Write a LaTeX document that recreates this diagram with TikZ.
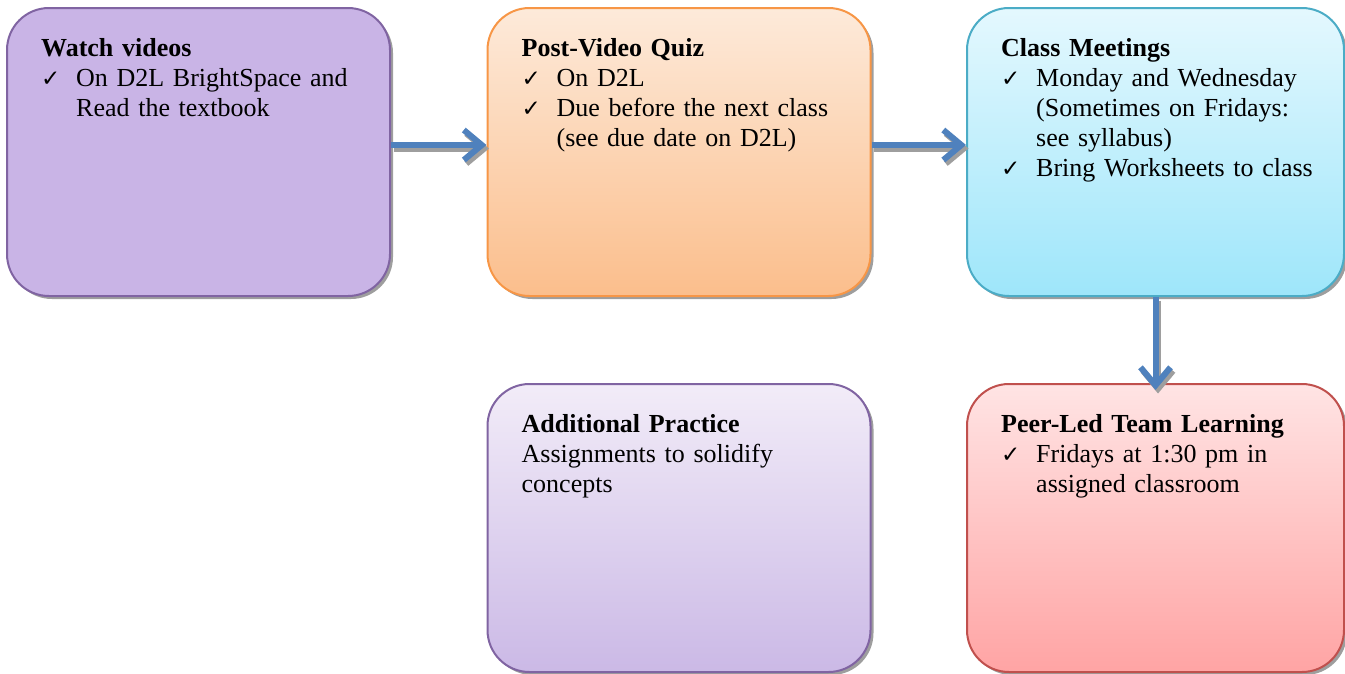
\documentclass[tikz,border=0pt]{standalone}
\usepackage{fontspec}
\setmainfont{Liberation Serif}
\newfontfamily\tickfont{DejaVu Sans}
\usepackage{tikz}
\usetikzlibrary{arrows.meta,shadows}
\definecolor{flowblue}{HTML}{4F81BD}
\definecolor{purpleline}{HTML}{8064A2}
\definecolor{orangeline}{HTML}{F79646}
\definecolor{aqualine}{HTML}{4BACC6}
\definecolor{redline}{HTML}{C0504D}
\newenvironment{ticks}{\begin{list}{\tickfont\fontsize{23}{23}\selectfont ✓}{\setlength{\leftmargin}{35pt}\setlength{\labelwidth}{35pt}%
	\setlength{\labelsep}{0pt}\setlength{\itemsep}{0pt}\setlength{\parsep}{0pt}\setlength{\topsep}{0pt}\setlength{\partopsep}{0pt}%
	\def\makelabel##1{##1\hfil}}}{\end{list}}

\begin{document}
\begin{tikzpicture}[x=1pt,y=-1pt,
		box/.style={rounded corners=42pt, line width=2pt, minimum width=383pt, minimum height=288pt, inner sep=0pt,
			drop shadow={shadow xshift=3pt,shadow yshift=-3pt,fill=black!38,opacity=1}},
		txt/.style={anchor=north west, inner sep=0pt, text width=340pt, align=left, font=\fontsize{26}{30}\selectfont},
		flow/.style={draw=flowblue, line width=6pt, -{Straight Barb[length=18pt,width=30pt]}},
		flowshade/.style={flow, draw=black!38, transform canvas={xshift=2.5pt,yshift=-3.5pt}}]
			%%%%% START %%%%%
			
			\useasboundingbox (0,0) rectangle (1345,673);
			
			\node[box, draw=purpleline, fill={rgb,255:red,201;green,180;blue,230}] (watch) at (198.5,152) {};
			\node[box, draw=orangeline, top color={rgb,255:red,253;green,234;blue,218}, bottom color={rgb,255:red,251;green,190;blue,140}] (quiz) at (679,152) {};
			\node[box, minimum width=377pt, draw=aqualine, top color={rgb,255:red,228;green,248;blue,254}, bottom color={rgb,255:red,158;green,230;blue,250}] (meet) at (1155.5,152) {};
			\node[box, draw=purpleline, top color={rgb,255:red,242;green,236;blue,248}, bottom color={rgb,255:red,203;green,185;blue,230}] (practice) at (679,528) {};
			\node[box, minimum width=377pt, draw=redline, top color={rgb,255:red,255;green,228;blue,228}, bottom color={rgb,255:red,255;green,164;blue,164}] (pltl) at (1155.5,528) {};
			
			\node[txt] (watchtxt) at ([shift={(35,31)}]watch.north west) {\textbf{Watch videos}
				\begin{ticks}\item On D2L BrightSpace and\\ Read the textbook\end{ticks}};
			\node[txt] (quiztxt) at ([shift={(35,31)}]quiz.north west) {\textbf{Post-Video Quiz}
				\begin{ticks}\item On D2L \item Due before the next class\\ (see due date on D2L)\end{ticks}};
			\node[txt] (meettxt) at ([shift={(35,31)}]meet.north west) {\textbf{Class Meetings}
				\begin{ticks}\item Monday and Wednesday\\ (Sometimes on Fridays:\\ see syllabus) \item Bring Worksheets to class\end{ticks}};
			\node[txt] (practicetxt) at ([shift={(35,31)}]practice.north west) {\textbf{Additional Practice}\par Assignments to solidify\\ concepts};
			\node[txt] (pltltxt) at ([shift={(35,31)}]pltl.north west) {\textbf{Peer-Led Team Learning}
				\begin{ticks}\item Fridays at 1:30 pm in\\ assigned classroom\end{ticks}};
			
			\draw[flowshade] ([yshift=7pt]watch.east) -- ([yshift=7pt]quiz.west);
			\draw[flow] ([yshift=7pt]watch.east) -- ([yshift=7pt]quiz.west);
			\draw[flowshade] ([yshift=7pt]quiz.east) -- ([yshift=7pt]meet.west);
			\draw[flow] ([yshift=7pt]quiz.east) -- ([yshift=7pt]meet.west);
			\draw[flowshade] (meet.south) -- ([yshift=-7pt]pltl.north);
			\draw[flow] (meet.south) -- ([yshift=-7pt]pltl.north);
			
			%%%%% END %%%%%
		\end{tikzpicture}
\end{document}
